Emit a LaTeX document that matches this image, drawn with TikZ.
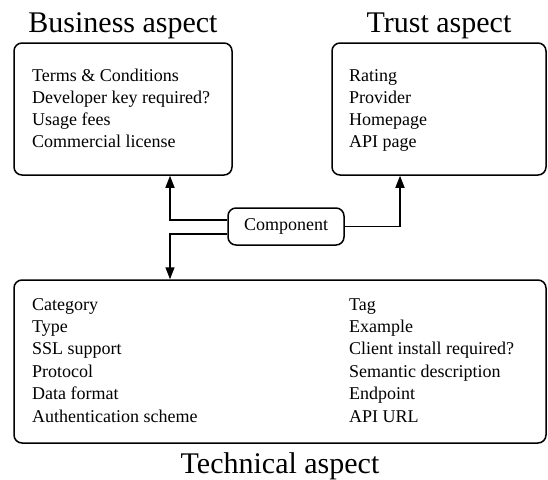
\documentclass[tikz,border=0pt]{standalone}
\usepackage{fontspec}
\setmainfont{Liberation Serif}
\usetikzlibrary{arrows.meta}
\begin{document}
\begin{tikzpicture}[x=1pt,y=-1pt,
  box/.style={draw,line width=1.5pt,rounded corners=8pt,inner sep=0pt},
  txt/.style={anchor=base west,inner sep=0pt,font=\fontsize{18}{22}\selectfont},
  ttl/.style={anchor=base,inner sep=0pt,font=\fontsize{30}{36}\selectfont},
  arr/.style={line width=1.5pt,-{Triangle[length=12pt,width=9pt]}}]
\useasboundingbox (0,0) rectangle (548,479);
% boxes
\node[box,minimum width=218pt,minimum height=132pt] (bus) at (123,109) {};
\node[box,minimum width=214pt,minimum height=132pt] (trust) at (439,109) {};
\node[box,minimum width=532pt,minimum height=163pt] (tech) at (280,361.5) {};
\node[box,minimum width=116pt,minimum height=37pt,font=\fontsize{18}{22}\selectfont] (comp) at (286,226.5) {Component};
% titles
\node[ttl] (bust) at (123,32) {Business aspect};
\node[ttl] (trustt) at (439,32) {Trust aspect};
\node[ttl] (techt) at (280,473) {Technical aspect};
% business text
\foreach \t [count=\i] in {Terms \& Conditions,Developer key required?,Usage fees,Commercial license}
  \node[txt] (b\i) at (32,{81+22*(\i-1)}) {\t};
% trust text
\foreach \t [count=\i] in {Rating,Provider,Homepage,API page}
  \node[txt] (t\i) at (349,{81+22*(\i-1)}) {\t};
% technical text
\foreach \t [count=\i] in {Category,Type,SSL support,Protocol,Data format,Authentication scheme}
  \node[txt] (l\i) at (32,{310+22.4*(\i-1)}) {\t};
\foreach \t [count=\i] in {Tag,Example,Client install required?,Semantic description,Endpoint,API URL}
  \node[txt] (r\i) at (349,{310+22.4*(\i-1)}) {\t};
% connectors
\coordinate (lx) at (170,0);
\coordinate (rx) at (400,0);
\draw[arr] ([yshift=6.5pt]comp.west) -| (lx |- bus.south);
\draw[arr] ([yshift=-7.5pt]comp.west) -| (lx |- tech.north);
\draw[arr] (comp.east) -| (rx |- trust.south);
\end{tikzpicture}
\end{document}
